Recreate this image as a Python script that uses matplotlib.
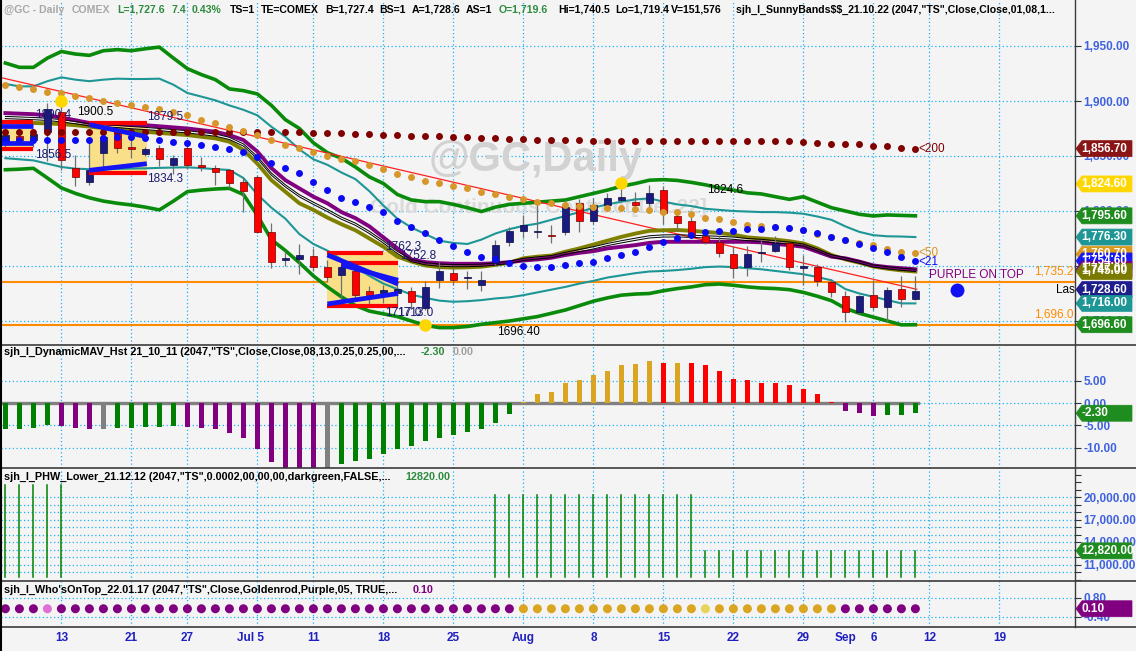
import matplotlib
matplotlib.use("Agg")
import matplotlib.pyplot as plt
from matplotlib.patches import Polygon, Rectangle
from matplotlib.lines import Line2D
import matplotlib.transforms as mtransforms
import numpy as np

plt.rcParams['font.family'] = ['Liberation Sans', 'DejaVu Sans']

# ---------------- data ----------------
opens = [1861, 1868, 1865, 1872, 1890, 1839, 1826.6, 1853, 1871, 1858.5, 1852, 1857, 1842, 1857, 1842, 1839, 1837, 1826, 1831, 1781,
         1755, 1756, 1759, 1749.4, 1742, 1745, 1727, 1725, 1725, 1727, 1711.5, 1737.3, 1744, 1739, 1733, 1752.5, 1772, 1782, 1781, 1778,
         1781, 1807, 1790.5, 1805.5, 1810, 1808.5, 1807, 1819, 1795.5, 1791, 1777, 1772, 1760.6, 1749.4, 1761.5, 1764, 1770.6, 1748, 1749.4, 1735,
         1722.7, 1708.5, 1724, 1712.5, 1729, 1719.6]
highs = [1873, 1874, 1872, 1898, 1900.5, 1851, 1866, 1870, 1874, 1869, 1858, 1860, 1851, 1861, 1849, 1842, 1838, 1831, 1833, 1789,
         1764, 1770, 1766, 1755, 1752, 1748, 1732, 1733, 1740, 1731, 1736, 1754, 1748, 1745.5, 1745.5, 1774, 1785, 1796, 1805, 1787,
         1810, 1811, 1812, 1816, 1824.6, 1817, 1824, 1823, 1798, 1797, 1779, 1777, 1768, 1768, 1773.6, 1777, 1771, 1760, 1752, 1738,
         1727, 1724, 1737, 1731, 1741, 1740.5]
lows = [1856, 1860, 1858, 1845, 1837, 1823, 1824, 1840, 1853, 1848, 1850, 1841, 1834, 1838, 1836, 1824, 1821, 1799, 1780, 1748,
        1750, 1743, 1745, 1735, 1718, 1718, 1715, 1716, 1712, 1711, 1710, 1730, 1733, 1729, 1727, 1751, 1768, 1775, 1775, 1771,
        1778, 1781, 1788, 1803, 1808, 1804, 1800, 1788, 1782, 1775, 1770, 1758, 1739, 1741, 1754, 1763, 1746, 1733, 1732, 1722,
        1699, 1706, 1710, 1699, 1713, 1719.4]
closes = [1869, 1865, 1870, 1893, 1846, 1831, 1837, 1867.5, 1857.6, 1856, 1856, 1847, 1848, 1842, 1840, 1835, 1825, 1818.5, 1781, 1754,
          1757, 1760, 1749, 1740, 1749, 1724, 1724, 1728, 1729, 1717.5, 1731, 1745.5, 1737, 1739.4, 1737, 1769, 1782, 1787, 1781.5, 1777,
          1804, 1790.5, 1805.5, 1811.5, 1813, 1805, 1816, 1798, 1789.5, 1777, 1772, 1762, 1748, 1760.6, 1761.8, 1770.6, 1749.4, 1750, 1736.6, 1726,
          1708.5, 1722.7, 1712.5, 1728, 1720, 1727.6]

ma200 = [1872, 1872, 1872, 1872, 1872, 1872, 1872, 1872, 1872, 1872, 1872, 1872, 1872, 1871.8, 1871.8, 1871.8, 1871.8, 1871.8, 1872, 1871.8, 1871.8,
         1871.5, 1871.2, 1871, 1870.6, 1870.2, 1869.8, 1869.4, 1869, 1868.6, 1868.2, 1867.8, 1867.4, 1867, 1866.6, 1866.2, 1865.8, 1865.4, 1865, 1864.7,
         1864.4, 1864.2, 1864, 1863.8, 1863.6, 1863.4, 1863.6, 1864, 1864, 1863.5, 1863.5, 1863.5, 1863.5, 1863.7, 1863.7, 1863.7, 1863.3, 1862.5, 1862,
         1861.3, 1861, 1860.5, 1859.5, 1858.7, 1857.6, 1856.7]
ma50 = [1914.5, 1912.4, 1910.6, 1908.5, 1907, 1904.5, 1902.4, 1900.3, 1898.5, 1896.4, 1894.3, 1892.4, 1890.3, 1887.3, 1882.7, 1879.7, 1876.6, 1873, 1869, 1864.5, 1860,
        1857, 1854, 1850, 1847, 1845, 1842, 1838, 1834, 1831, 1827.6, 1825.7, 1822.7, 1820.6, 1817.6, 1815.5, 1813, 1810.6, 1808.5, 1807, 1805.5, 1804.5, 1804,
        1802.4, 1802.4, 1801.5, 1801, 1799.5, 1799.4, 1797, 1794, 1792.4, 1790.3, 1787.3, 1786.4, 1785, 1784.2, 1782.7, 1778.8, 1776.7, 1773.6, 1771, 1769,
        1765.5, 1763, 1761.5]
ma21 = [1864.5, 1864.5, 1864.5, 1865, 1865, 1865, 1865, 1866, 1867, 1867, 1866, 1865, 1863, 1861.5, 1860, 1858, 1856, 1854, 1849.4, 1844, 1839,
        1834.3, 1826.6, 1819, 1812, 1808.5, 1804, 1799, 1791, 1785.5, 1780, 1773.6, 1768, 1763, 1758, 1756, 1753, 1750, 1749.4, 1748.8, 1751, 1752.5,
        1754, 1757, 1760, 1763, 1767.5, 1772, 1775, 1778, 1781, 1782, 1782, 1783.4, 1783.6, 1785, 1784.2, 1782.7, 1779.7, 1776.7, 1773.6, 1770, 1766,
        1763, 1758.5, 1754.5]
purple_line = [1889, 1888.5, 1888, 1887, 1885, 1882.5, 1880, 1879.5, 1879, 1878.5, 1878, 1877, 1876, 1875, 1873.5, 1872, 1869, 1864.5, 1854, 1839, 1828,
               1820.5, 1813, 1807, 1799, 1793.5, 1786, 1776, 1766, 1756, 1753.5, 1752.5, 1752, 1752, 1752, 1752.5, 1753.5, 1755, 1756, 1757.5, 1760,
               1762, 1763.5, 1766, 1767.5, 1769, 1771, 1772, 1772, 1772, 1772, 1772, 1772, 1772, 1771.5, 1770, 1769, 1767.5, 1763, 1758.5, 1757,
               1754, 1750.5, 1749, 1748, 1747]
olive_line = [1881, 1880.5, 1880, 1879.7, 1879, 1878, 1876.7, 1875.5, 1874.5, 1873, 1872, 1871, 1870, 1869, 1867.5, 1866, 1863, 1855.5, 1843, 1828, 1817.5,
              1807, 1801, 1794, 1788, 1782.5, 1775, 1767.5, 1758.5, 1754, 1750.5, 1749, 1748.5, 1748.8, 1749.4, 1751, 1753, 1757, 1758.5, 1759.5, 1763,
              1766, 1769.5, 1773, 1776.5, 1779.5, 1782, 1782.5, 1782.7, 1782, 1781, 1780, 1778.5, 1776, 1775, 1774, 1772.5, 1770.5, 1766, 1760, 1756,
              1753, 1749.5, 1747.5, 1746, 1745]
mid_line = [1885, 1884.5, 1884, 1883.3, 1882, 1880.3, 1878.3, 1877.5, 1876.8, 1875.8, 1875, 1874, 1873, 1872, 1870.5, 1869, 1866, 1860, 1848.5, 1833.5, 1822.8,
            1813.8, 1807, 1800.5, 1793.5, 1788, 1780.5, 1771.8, 1762.3, 1755, 1752, 1750.8, 1750.3, 1750.4, 1750.7, 1751.8, 1753.3, 1756, 1757.3, 1758.5, 1761.5,
            1764, 1766.5, 1769.5, 1772, 1774.3, 1776.5, 1777.3, 1777.4, 1777, 1776.5, 1776, 1775.3, 1774, 1773.3, 1772, 1770.8, 1769, 1764.5, 1759.3, 1756.5,
            1753.5, 1750, 1748.3, 1747, 1746]
teal_upper = [1915.5, 1913.3, 1913.3, 1918, 1921.5, 1919.4, 1918, 1919.4, 1920.3, 1920, 1920, 1920.3, 1914.8, 1907.3, 1904, 1900.6, 1896, 1892, 1887, 1876.6, 1867.5,
              1856, 1847, 1842, 1835, 1829, 1818, 1805, 1793, 1785, 1779, 1773, 1771, 1770, 1774, 1779.5, 1783.5, 1786.5, 1788.5, 1792, 1795.5,
              1799, 1803, 1806, 1808.5, 1810.5, 1811.5, 1808.5, 1806, 1804.5, 1802, 1801, 1800, 1799.5, 1799, 1799, 1798.5, 1797.5, 1795, 1792, 1786,
              1781, 1778, 1777, 1776.8, 1776.3]
teal_lower = [1848, 1847, 1846, 1843, 1840, 1838.5, 1838, 1838, 1838.3, 1838.6, 1838.8, 1839.2, 1839.5, 1839.7, 1839, 1838, 1837.3, 1830, 1815, 1803, 1793,
              1779, 1770, 1764, 1756, 1749, 1741, 1734, 1729, 1724, 1721, 1718.5, 1717.5, 1718, 1719, 1720.5, 1721.5, 1723.5, 1726, 1728.5, 1731,
              1734, 1736.5, 1739.5, 1741.5, 1743.5, 1745, 1745.5, 1746.3, 1747.5, 1749, 1749.5, 1749, 1748, 1747, 1745.5, 1744, 1742.5, 1740, 1737, 1729,
              1725, 1722, 1719, 1716, 1716]
green_upper = [1934.5, 1930.6, 1930.6, 1939, 1945, 1942.7, 1941.5, 1945.7, 1946.7, 1945.7, 1947.5, 1949, 1939, 1929.4, 1924, 1919.4, 1911, 1909.4, 1906.4, 1896, 1883,
               1875, 1862, 1853, 1848, 1840, 1831, 1825, 1815, 1810, 1808.5, 1808.5, 1806, 1803, 1799.5, 1803.5, 1806, 1807, 1808, 1809, 1810,
               1813, 1816, 1819, 1822.5, 1825, 1828, 1828.5, 1827.8, 1826, 1823.8, 1821, 1819, 1816.5, 1815.5, 1813, 1810.6, 1813, 1808, 1803, 1800,
               1797, 1795.5, 1796.4, 1796, 1795.6]
green_lower = [1837.5, 1838, 1838.8, 1830, 1821, 1816, 1812, 1809, 1807, 1805.5, 1803.5, 1801, 1809, 1817.6, 1819, 1820, 1820.6, 1815, 1796, 1774, 1764,
               1753, 1741, 1731, 1722, 1714, 1709, 1706.5, 1704, 1700, 1696, 1694, 1694, 1695, 1697, 1698.5, 1700, 1702, 1704, 1707, 1710,
               1714, 1718, 1721, 1723.5, 1724.5, 1725, 1727.5, 1729.5, 1731, 1733, 1733.6, 1732.5, 1731, 1730, 1729.5, 1728.5, 1726, 1722.5, 1718.5, 1711.5,
               1707, 1703.5, 1700, 1696.5, 1696.6]
trend_x = [-0.4, 65.1]
trend_y = [1921.5, 1728.8]
swing_x = [4, 44, 30]
swing_y = [1900.0, 1825.5, 1696.4]
hlines_y = [1735.2, 1696.0]
hlines_lbl = ['1,735.2', '1,696.0']

# Sunny band boxes
box_x0 = [-0.4, 6.0, 23.0]
box_x1 = [2.0, 10.1, 28.05]
box_top = [1880.5, 1879.7, 1763.0]
box_bot = [1856.5, 1834.8, 1711.5]
red_x0 = [-0.4, -0.4, 6.0, 6.0, 23.0, 24.0, 23.0]
red_x1 = [2.0, 2.0, 10.1, 10.1, 27.0, 28.05, 28.05]
red_y = [1880.5, 1856.5, 1879.6, 1834.6, 1761.5, 1753.0, 1714.0]
blue_x0 = [-0.4, -0.4, 6.0, 6.0, 23.0, 24.0, 23.0]
blue_y0 = [1877.0, 1862.0, 1878.5, 1837.0, 1760.0, 1751.0, 1715.5]
blue_x1 = [2.0, 2.0, 10.1, 10.1, 28.05, 28.05, 28.05]
blue_y1 = [1877.0, 1862.0, 1867.5, 1843.0, 1733.6, 1737.0, 1725.0]

lbl_text = ['1890.4', '1856.5', '1900.5', '1879.5', '1834.3', '1762.3', '1752.8', '1717.0', '1713.0', '1696.40', '1824.6']
lbl_x = [2.1, 2.1, 5.1, 10.1, 10.1, 27.1, 28.2, 27.1, 28.0, 35.1, 50.1]
lbl_y = [1887.3, 1851.0, 1890.3, 1885.7, 1829.0, 1767.5, 1759.0, 1707.0, 1707.0, 1690.0, 1819.0]
lbl_col = ['n', 'n', 'k', 'n', 'n', 'n', 'n', 'n', 'n', 'k', 'k']

main_tags_val = [1856.7, 1824.6, 1795.6, 1776.3, 1760.7, 1754.6, 1747.0, 1745.0, 1728.6, 1716.0, 1696.6]
main_tags_col = ['#8B1414', '#FFD700', '#1E8C1E', '#1E9696', '#D99A1E', '#1818F0', '#800080', '#7A7A00', '#1E1E8C', '#1E9696', '#1E8C1E']

hist = [-5.9, -5.9, -5.6, -5.0, -5.2, -5.7, -5.9, -5.9, -5.7, -5.6,
        -5.5, -5.5, -5.2, -5.3, -5.7, -5.9, -6.7, -7.9, -10.3, -13.3,
        -14.5, -14.5, -14.6, -14.6, -13.6, -13.0, -12.6, -11.5, -10.3, -9.7,
        -8.5, -7.9, -7.2, -6.5, -5.9, -4.5, -2.5, 0.3, 2.0, 2.4,
        4.6, 5.1, 6.2, 7.3, 8.5, 8.7, 9.4, 9.1, 9.1, 8.9,
        8.5, 7.3, 5.5, 5.1, 4.6, 4.6, 4.0, 3.1, 2.0, 0.2,
        -1.9, -2.3, -3.0, -2.8, -2.8, -2.3]
hist_cat = list('gggg' 'ppp' 'x' 'ggggg' 'pppppppppp' 'x' 'ggggggggggggg' 'oooooooooo' 'r' 'o' 'rrrrrrrrrrr' 'ppp' 'ggg')

phw = [21600] * 5 + [None] * 30 + [20300] * 15 + [12820] * 16
phw_base = 9300

wot_cat = list('PPP' 'O' + 'P' * 33 + 'G' * 13 + 'Y' + 'G' * 9 + 'P' * 6)
wot_val = 0.1

xtick_idx = [4, 9, 13, 18, 22, 27, 32, 37, 42, 47, 52, 57, 60, 62, 66, 71]
xtick_lbl = ['13', '21', '27', 'Jul 5', '11', '18', '25', 'Aug', '8', '15', '22', '29', 'Sep', '6', '12', '19']
xgrid_idx = [4, 9, 13, 18, 22, 27, 32, 37, 42, 47, 52, 57, 62, 66, 71]

# ---------------- styling ----------------
W, H = 1136, 651
BG = '#F4F4F4'
GRID = '#1AB2F5'
NAVY_LBL = '#1A1A70'
AXBLUE = '#3F62E0'
XBLUE = '#2020C0'

fig = plt.figure(figsize=(W / 100, H / 100), dpi=100)
fig.patch.set_facecolor(BG)

XL = (-4.4 / 14, (1074 - 4.4) / 14)


def make_ax(top, bottom, ylim):
    ax = fig.add_axes([1 / W, 1 - bottom / H, 1074 / W, (bottom - top) / H])
    ax.set_facecolor(BG)
    ax.set_xlim(*XL)
    ax.set_ylim(*ylim)
    for s in ax.spines.values():
        s.set_visible(False)
    ax.set_xticks([])
    ax.yaxis.tick_right()
    ax.tick_params(axis='y', which='both', direction='out', length=4, width=0.8,
                   color='#333333', labelcolor=AXBLUE, labelsize=8.5, pad=2)
    for xi in xgrid_idx:
        ax.axvline(xi, color=GRID, lw=0.9, ls=(0, (1, 2)), zorder=0.5)
    return ax


def hgrid(ax, vals):
    for v in vals:
        ax.axhline(v, color=GRID, lw=0.9, ls=(0, (1, 2)), zorder=0.5)


def tag(ax, val, text, color, tcolor='white'):
    ylo, yhi = ax.get_ylim()
    hpx = ax.get_position().height * H
    upp = (yhi - ylo) / hpx
    hh = 8 * upp
    x0 = 1.0 + 1 / 1074
    x1 = 1.0 + 7 / 1074
    x2 = 1.0 + 57 / 1074
    tr = mtransforms.blended_transform_factory(ax.transAxes, ax.transData)
    ax.add_patch(Polygon([(x0, val), (x1, val + hh), (x2, val + hh), (x2, val - hh), (x1, val - hh)],
                         closed=True, transform=tr, facecolor=color, edgecolor=color,
                         lw=0.5, clip_on=False, zorder=20))
    ax.text(1.0 + 6 / 1074, val, text, transform=tr, color=tcolor, fontsize=8.5,
            fontweight='bold', va='center', ha='left', clip_on=False, zorder=21)


def bold_ticklabels(ax):
    for t in ax.get_yticklabels():
        t.set_fontweight('bold')


# ---------------- main price panel ----------------
ax = make_ax(1, 345, (1900 - (345 - 101) / 1.1, 1900 + 100 / 1.1))
ax.set_yticks([1700, 1750, 1800, 1850, 1900, 1950])
ax.set_yticklabels([f'{v:,.2f}' for v in [1700, 1750, 1800, 1850, 1900, 1950]])
bold_ticklabels(ax)
hgrid(ax, [1700, 1750, 1800, 1850, 1900, 1950])

ax.text(0.498, 0.538, '@GC,Daily', transform=ax.transAxes, ha='center', va='center',
        fontsize=30, fontweight='bold', color='#D2D2D2', zorder=0.6)
ax.text(0.5, 0.401, 'Gold Continuous Contract[Dec22]', transform=ax.transAxes, ha='center', va='center',
        fontsize=15, fontweight='bold', color='#DADADA', zorder=0.6)

for v in hlines_y:
    ax.axhline(v, color='#FF8C00', lw=1.5, zorder=1)
for v, s in zip(hlines_y, hlines_lbl):
    ax.text(XL[1] - 0.1, v + 4.5, s, color='#FF8C00', fontsize=8.5, ha='right', va='bottom', zorder=2)
ax.text((1056 - 5.4) / 14, 1728.6, 'Last', color='black', fontsize=8.5, ha='left', va='center',
        zorder=2, clip_on=True)

idx = np.arange(len(closes))

# yellow boxes
for x0, x1, t, b in zip(box_x0, box_x1, box_top, box_bot):
    ax.add_patch(Rectangle((x0, b), x1 - x0, t - b, facecolor='#F8DF88', edgecolor='none', zorder=1.2))

# bands
ax.plot(idx, green_upper, color='#0A8A0A', lw=2.6, zorder=2, solid_joinstyle='round')
ax.plot(idx, green_lower, color='#0A8A0A', lw=2.6, zorder=2, solid_joinstyle='round')
ax.plot(idx, teal_upper, color='#1E9696', lw=1.5, zorder=2)
ax.plot(idx, teal_lower, color='#1E9696', lw=1.5, zorder=2)
ax.plot(trend_x, trend_y, color='#FF2020', lw=0.9, zorder=2.1)
ax.plot(idx, olive_line, color='#808000', lw=2.8, zorder=2.2)
ax.plot(idx, purple_line, color='#800080', lw=2.8, zorder=2.3)
ax.plot(idx, np.array(mid_line) + 1.0, color='black', lw=0.7, zorder=2.4)
ax.plot(idx, np.array(mid_line) - 1.0, color='black', lw=0.7, zorder=2.4)

# candles
for i in idx:
    o, h, l, c = opens[i], highs[i], lows[i], closes[i]
    ax.plot([i, i], [l, h], color='#707070', lw=0.9, zorder=3, solid_capstyle='butt')
    up = c >= o
    fc = '#1A1A80' if up else '#FF0000'
    ec = '#0A0A40' if up else '#700000'
    bh = max(abs(c - o), 0.8)
    ax.add_patch(Rectangle((i - 0.24, min(o, c)), 0.48, bh, facecolor=fc, edgecolor=ec, lw=0.5, zorder=3.1))

# MA dots
ax.plot(idx, ma200, 'o', color='#800000', ms=5, zorder=4, mec='none')
ax.plot(idx, ma50, 'o', color='#D6962A', ms=5, zorder=4, mec='none')
ax.plot(idx, ma21, 'o', color='#0A0AF5', ms=5, zorder=4.1, mec='none')
ax.text(65.2, ma200[-1], '<200', color='#800000', fontsize=8.5, va='center', ha='left', zorder=5)
ax.text(65.2, ma50[-1], '<50', color='#D6962A', fontsize=8.5, va='center', ha='left', zorder=5)
ax.text(65.2, ma21[-1] - 1, '<21', color='#0A0AF5', fontsize=8.5, va='center', ha='left', zorder=5)

# sunny band lines
for x0, x1, y in zip(red_x0, red_x1, red_y):
    ax.plot([x0, x1], [y, y], color='#FF0000', lw=3.0, zorder=4.5, solid_capstyle='butt')
for x0, y0, x1, y1 in zip(blue_x0, blue_y0, blue_x1, blue_y1):
    ax.plot([x0, x1], [y0, y1], color='#1414F5', lw=3.4, zorder=4.6, solid_capstyle='butt')

# swing dots
ax.plot(swing_x, swing_y, 'o', color='#FFD700', ms=9, mec='none', zorder=5)

for s, x, y, c in zip(lbl_text, lbl_x, lbl_y, lbl_col):
    ax.text(x, y, s, color=NAVY_LBL if c == 'n' else 'black', fontsize=8.5, ha='left', va='center', zorder=6)

ax.text(66.0, 1741.8, 'PURPLE ON TOP', color='#800080', fontsize=8.5, ha='left', va='center', zorder=6)
ax.plot([68.0], [closes[-1] + 1.0], 'o', color='#1010F0', ms=10, mec='none', zorder=6)

for v, c in zip(main_tags_val, main_tags_col):
    tag(ax, v, f'{v:,.2f}', c)

# ---------------- histogram panel ----------------
ax2 = make_ax(345, 468, (-(468 - 403) / 4.45, (403 - 345) / 4.45))
ax2.set_yticks([-10, -5, 0, 5])
ax2.set_yticklabels(['-10.00', '-5.00', '0.00', '5.00'])
bold_ticklabels(ax2)
hgrid(ax2, [-10, -5, 0, 5])
hcols = {'g': '#008000', 'p': '#800080', 'x': '#808080', 'o': '#DAA520', 'r': '#FF0000'}
ax2.plot([XL[0], 65.2], [0, 0], color='#808080', lw=2.4, zorder=2)
ax2.bar(idx, hist, width=0.3, color=[hcols[c] for c in hist_cat], zorder=3)
tag(ax2, hist[-1], f'{hist[-1]:.2f}', '#1E8C1E')

# ---------------- PHW panel ----------------
ax3 = make_ax(468, 581, (20000 - (581 - 497) / 7.5 * 1000, 20000 + (497 - 468) / 7.5 * 1000))
ax3.set_yticks([11000, 14000, 17000, 20000])
ax3.set_yticklabels(['11,000.00', '14,000.00', '17,000.00', '20,000.00'])
ax3.set_yticks(list(range(9000, 24000, 1000)), minor=True)
ax3.tick_params(axis='y', which='minor', length=4)
bold_ticklabels(ax3)
hgrid(ax3, list(range(10000, 21000, 1000)))
for i, v in enumerate(phw):
    if v is not None:
        ax3.plot([i, i], [phw_base, v], color='#008000', lw=1.1, zorder=3)
tag(ax3, 12820, '12,820.00', '#1E8C1E')

# ---------------- Who's on top panel ----------------
ax4 = make_ax(581, 627, (0.8 - (627 - 597.7) / 15.8, 0.8 + (597.7 - 581) / 15.8))
ax4.set_yticks([-0.4, 0.8])
ax4.set_yticklabels(['-0.40', '0.80'])
bold_ticklabels(ax4)
hgrid(ax4, [-0.4, 0.8])
wcols = {'P': '#800080', 'O': '#E070D8', 'G': '#DAA520', 'Y': '#E8D45A'}
ax4.scatter(idx, [wot_val] * len(idx), s=42, c=[wcols[c] for c in wot_cat], zorder=3, linewidths=0)
tag(ax4, wot_val, '0.10', '#800080')

trx = mtransforms.blended_transform_factory(ax4.transData, ax4.transAxes)
for xi, s in zip(xtick_idx, xtick_lbl):
    if ' ' in s:
        ax4.text(xi + 0.45, -0.24, s, transform=trx, ha='right', va='center', fontsize=8.5,
                 fontweight='bold', color=XBLUE, clip_on=False)
    else:
        ax4.text(xi, -0.24, s, transform=trx, ha='center', va='center', fontsize=8.5,
                 fontweight='bold', color=XBLUE, clip_on=False)

# ---------------- titles / header ----------------
def ftext(px, py, s, color, weight='bold', size=7.6):
    fig.text(px / W, 1 - py / H, s, color=color, fontsize=size, fontweight=weight, ha='left', va='center')


GRN = '#2E8B3E'
header = [(3.6, '@GC - Daily', '#A8A8A8'), (71.6, 'COMEX', '#A8A8A8'), (117, 'L=1,727.6', GRN), (171, '7.4', GRN),
          (192, '0.43%', GRN), (230, 'TS=1', 'black'), (261, 'TE=COMEX', 'black'), (325, 'B=1,727.4', 'black'),
          (379, 'BS=1', 'black'), (411.6, 'A=1,728.6', 'black'), (466, 'AS=1', 'black'), (499, 'O=1,719.6', GRN),
          (558, 'Hi=1,740.5', 'black'), (615, 'Lo=1,719.4', 'black'), (671, 'V=151,576', 'black'),
          (736.5, 'sjh_I_SunnyBands\\$\\$_21.10.22 (2047,"TS",Close,Close,01,08,1...', 'black')]
for px, s, c in header:
    ftext(px, 10, s, c)

ftext(3.6, 352, 'sjh_I_DynamicMAV_Hst 21_10_11 (2047,"TS",Close,Close,08,13,0.25,0.25,00,...', 'black', size=7.8)
ftext(421, 352, '-2.30', GRN, size=7.8)
ftext(453, 352, '0.00', '#A0A0A0', size=7.8)
ftext(3.6, 477, 'sjh_I_PHW_Lower_21.12.12 (2047,"TS",0.0002,00,00,00,darkgreen,FALSE,...', 'black', size=7.8)
ftext(405, 477, '12820.00', GRN, size=7.8)
ftext(3.6, 590, 'sjh_I_Who\'sOnTop_22.01.17 (2047,"TS",Close,Goldenrod,Purple,05, TRUE,...', 'black', size=7.8)
ftext(412.5, 590, '0.10', '#800080', size=7.8)

# ---------------- separators ----------------
def fline(x0, y0, x1, y1, color='#3C3C3C', lw=1.2):
    fig.add_artist(Line2D([x0 / W, x1 / W], [1 - y0 / H, 1 - y1 / H], transform=fig.transFigure,
                          color=color, lw=lw, zorder=30))


for yy in [345, 468, 581, 627]:
    fline(0, yy, W, yy)
fline(1075, 0, 1075, 627, lw=1.0)
fline(0.5, 0, 0.5, H, color='black', lw=1.5)

fig.savefig('out.png', dpi=100, facecolor=BG)
